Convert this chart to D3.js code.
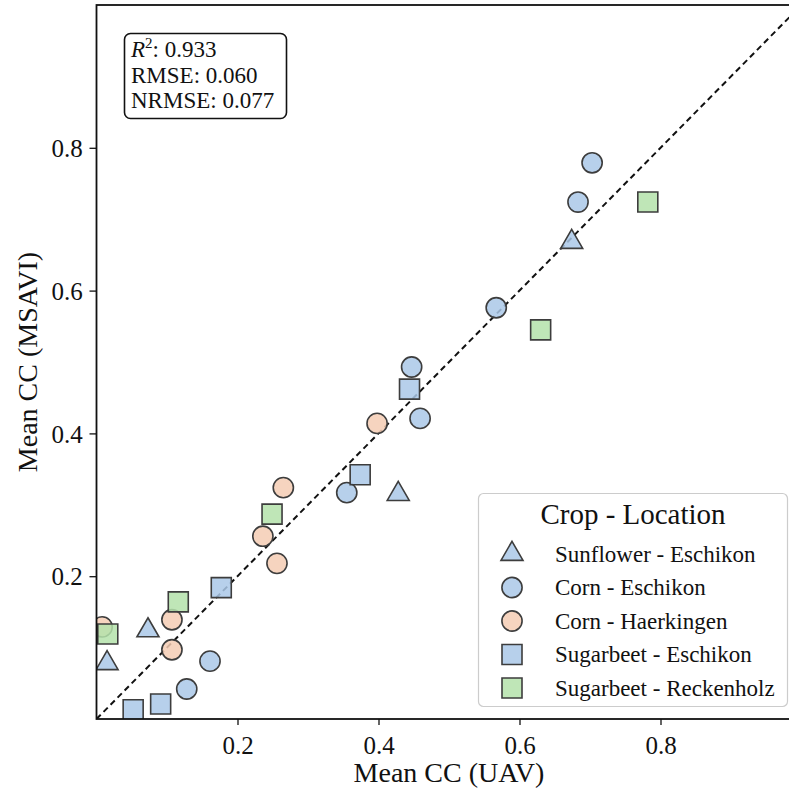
<!DOCTYPE html>
<html>
<head>
<meta charset="utf-8">
<script src="https://cdn.jsdelivr.net/npm/d3@7"></script>
<style>
  body { margin: 0; background: #fff; }
  svg { display: block; font-family: "Liberation Serif", "DejaVu Serif", serif; }
</style>
</head>
<body>
<div id="chart"></div>
<script>
// Data: [Mean CC (UAV), Mean CC (MSAVI)]
const groups = ["Sunflower - Eschikon", "Corn - Eschikon", "Corn - Haerkingen",
                "Sugarbeet - Eschikon", "Sugarbeet - Reckenholz"];

const sunflowerEschikon = [[0.015, 0.078], [0.073, 0.124], [0.428, 0.315], [0.674, 0.668]];
const cornEschikon = [[0.703, 0.779], [0.683, 0.724], [0.567, 0.576], [0.447, 0.493],
                      [0.459, 0.421], [0.355, 0.317], [0.161, 0.081], [0.128, 0.042]];
const cornHaerkingen = [[0.398, 0.414], [0.265, 0.324], [0.236, 0.256], [0.256, 0.218],
                        [0.107, 0.139], [0.107, 0.097], [0.008, 0.129]];
const sugarbeetEschikon = [[0.444, 0.462], [0.374, 0.342], [0.177, 0.184], [0.091, 0.021], [0.052, 0.013]];
const sugarbeetReckenholz = [[0.782, 0.724], [0.630, 0.545], [0.249, 0.287], [0.116, 0.164], [0.016, 0.119]];

const xTicks = [0.2, 0.4, 0.6, 0.8];
const yTicks = [0.2, 0.4, 0.6, 0.8];
const statsLines = ["0.933", "RMSE: 0.060", "NRMSE: 0.077"];

const width = 789, height = 794;
const plot = { left: 96.5, right: 801.5, top: 5, bottom: 719 };

const series = [
    { name: groups[0], points: sunflowerEschikon, shape: "triangle", fill: "#aac8e8" },
    { name: groups[1], points: cornEschikon, shape: "circle", fill: "#aac8e8" },
    { name: groups[2], points: cornHaerkingen, shape: "circle", fill: "#f5cdb4" },
    { name: groups[3], points: sugarbeetEschikon, shape: "square", fill: "#aac8e8" },
    { name: groups[4], points: sugarbeetReckenholz, shape: "square", fill: "#b4e2aa" }
];

const svg = d3.select("#chart")
    .append("svg")
    .attr("width", width)
    .attr("height", height);

const x = d3.scaleLinear().domain([0, 1]).range([plot.left, plot.right]);
const y = d3.scaleLinear().domain([0, 1]).range([plot.bottom, plot.top]);

svg.append("clipPath")
    .attr("id", "plotClip")
    .append("rect")
    .attr("x", plot.left)
    .attr("y", plot.top)
    .attr("width", plot.right - plot.left)
    .attr("height", plot.bottom - plot.top);

const symbolOf = {
    triangle: d3.symbol(d3.symbolTriangle, 210),
    circle: d3.symbol(d3.symbolCircle, 320),
    square: d3.symbol(d3.symbolSquare, 400)
};

// 1:1 line
svg.append("line")
    .attr("x1", x(0)).attr("y1", y(0))
    .attr("x2", x(1)).attr("y2", y(1))
    .attr("stroke", "#111")
    .attr("stroke-width", 2)
    .attr("stroke-dasharray", "6,4")
    .attr("clip-path", "url(#plotClip)");

// points
const pts = svg.append("g").attr("clip-path", "url(#plotClip)");
series.forEach(s => {
    pts.selectAll(null)
        .data(s.points)
        .enter()
        .append("path")
        .attr("d", symbolOf[s.shape])
        .attr("transform", d => `translate(${x(d[0])},${y(d[1])})`)
        .attr("fill", s.fill)
        .attr("fill-opacity", 0.85)
        .attr("stroke", "#3d3d3d")
        .attr("stroke-width", 1.6);
});

// axes
const xAxis = svg.append("g")
    .attr("transform", `translate(0,${plot.bottom})`)
    .call(d3.axisBottom(x).tickValues(xTicks).tickFormat(d3.format(".1f")).tickSize(6).tickSizeOuter(0));
const yAxis = svg.append("g")
    .attr("transform", `translate(${plot.left},0)`)
    .call(d3.axisLeft(y).tickValues(yTicks).tickFormat(d3.format(".1f")).tickSize(7).tickSizeOuter(0));

[xAxis, yAxis].forEach(a => {
    a.select(".domain").remove();
    a.selectAll("line").attr("stroke", "#111").attr("stroke-width", 1.3);
    a.selectAll("text").attr("font-family", "Liberation Serif, serif")
        .attr("font-size", 25).attr("fill", "#111");
});
xAxis.selectAll("text").attr("dy", "1.05em");
yAxis.selectAll("text").attr("dx", "-0.15em").attr("dy", "0.35em");

// frame
svg.append("rect")
    .attr("x", plot.left)
    .attr("y", plot.top)
    .attr("width", plot.right - plot.left)
    .attr("height", plot.bottom - plot.top)
    .attr("fill", "none")
    .attr("stroke", "#111")
    .attr("stroke-width", 1.8);

// axis labels
svg.append("text")
    .attr("x", (plot.left + plot.right) / 2)
    .attr("y", 782)
    .attr("text-anchor", "middle")
    .attr("font-size", 28)
    .attr("fill", "#111")
    .text("Mean CC (UAV)");

svg.append("text")
    .attr("transform", `translate(37,${(plot.top + plot.bottom) / 2}) rotate(-90)`)
    .attr("text-anchor", "middle")
    .attr("font-size", 28)
    .attr("fill", "#111")
    .text("Mean CC (MSAVI)");

// stats box
svg.append("rect")
    .attr("x", 124.5).attr("y", 33.5)
    .attr("width", 162).attr("height", 85)
    .attr("rx", 6)
    .attr("fill", "#fff")
    .attr("stroke", "#111")
    .attr("stroke-width", 1.6);

const r2 = svg.append("text")
    .attr("x", 131).attr("y", 57)
    .attr("font-size", 23).attr("fill", "#111");
r2.append("tspan").attr("font-style", "italic").text("R");
r2.append("tspan").attr("font-size", 15).attr("dy", -9).text("2");
r2.append("tspan").attr("dy", 9).text(": " + statsLines[0]);

statsLines.slice(1).forEach((t, i) => {
    svg.append("text")
        .attr("x", 131).attr("y", 83 + i * 25)
        .attr("font-size", 23).attr("fill", "#111")
        .text(t);
});

// legend
const legend = svg.append("g");
legend.append("rect")
    .attr("x", 478.5).attr("y", 493.5)
    .attr("width", 309).attr("height", 213)
    .attr("rx", 5)
    .attr("fill", "#fff")
    .attr("fill-opacity", 0.85)
    .attr("stroke", "#cccccc")
    .attr("stroke-width", 1.2);

legend.append("text")
    .attr("x", 633).attr("y", 524)
    .attr("text-anchor", "middle")
    .attr("font-size", 29)
    .attr("fill", "#111")
    .text("Crop - Location");

series.forEach((s, i) => {
    const cy = 554 + i * 33.5;
    legend.append("path")
        .attr("d", symbolOf[s.shape])
        .attr("transform", `translate(512,${cy})`)
        .attr("fill", s.fill)
        .attr("fill-opacity", 0.85)
        .attr("stroke", "#3d3d3d")
        .attr("stroke-width", 1.6);
    legend.append("text")
        .attr("x", 555).attr("y", cy)
        .attr("dy", "0.33em")
        .attr("font-size", 23)
        .attr("fill", "#111")
        .text(s.name);
});
</script>
</body>
</html>
